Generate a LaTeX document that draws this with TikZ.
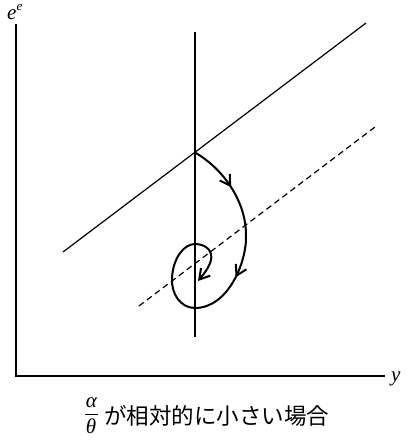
\documentclass[tikz,border=0pt]{standalone}
\usepackage{fontspec}
\newfontfamily\jpfont{Noto Sans CJK JP}
\newfontfamily\tmfont{Liberation Serif}
\usetikzlibrary{arrows.meta,decorations.markings}

\begin{document}
\begin{tikzpicture}[
  x=1pt, y=-1pt,
  barb/.tip={Straight Barb[length=10pt, width=12pt]},
  axis/.style={line width=1.3pt},
  schedule/.style={line width=1.2pt},
  spiral/.style={line width=2pt, line cap=round, line join=round},
  mid arrow/.style={postaction={decorate}, decoration={markings, mark=at position #1 with {\arrow{barb}}}},
  label/.style={inner sep=0pt, font=\fontsize{21}{24}\selectfont\tmfont\itshape},
  frac/.style={inner sep=0pt, font=\fontsize{21}{24}\selectfont\tmfont\itshape}
  ]
\useasboundingbox (0,0) rectangle (407,442);

% axes
\coordinate (O) at (16,376);
\coordinate (ytop) at (16,24);
\coordinate (xend) at (385,376);
\draw[axis] (ytop) -- (O) -- (xend);
\node[label, anchor=base west] (ee) at (7,19) {e\raisebox{0.4em}{\fontsize{13}{13}\selectfont e}};
\node[label, anchor=base west] (ylab) at (391,381) {y};

% vertical line, solid and dashed lines
\coordinate (vtop) at (195,32);
\coordinate (vbot) at (195,337);
\draw[schedule] (vtop) -- (vbot);
\coordinate (s1) at (63,252);
\coordinate (s2) at (366,23);
\draw[schedule] (s1) -- (s2);
\coordinate (d1) at (139,306);
\coordinate (d2) at (375,127);
\draw[schedule, dash pattern=on 6pt off 4pt] (d1) -- (d2);

% spiral path
\coordinate (E0) at (195,152.5);
\coordinate (R) at (246,235);
\coordinate (B) at (195,308);
\coordinate (L) at (172,278);
\coordinate (T) at (195,244);
\coordinate (tip) at (198,281);
\draw[spiral, mid arrow=0.5] (E0) .. controls (222,168) and (246,200) .. (R);
\draw[spiral, mid arrow=0.45] (R) .. controls (247,262) and (228,308) .. (B);
\draw[spiral, -{barb}] (B) .. controls (180,308) and (171,293) .. (L)
  .. controls (173,258) and (184,244) .. (T)
  .. controls (206,244) and (213,251) .. (211,260)
  .. controls (209,268) and (203,275) .. (tip);

% caption
\node[frac] (alpha) at (91.5,403) {α};
\node[frac] (theta) at (91,426) {θ};
\coordinate (bar1) at (85,414);
\coordinate (bar2) at (98,414);
\draw[line width=0.8pt] (bar1) -- (bar2);
\node[inner sep=0pt, anchor=west, font=\fontsize{22.5}{26}\selectfont\jpfont] (cap) at (104,416) {が相対的に小さい場合};
\end{tikzpicture}
\end{document}
